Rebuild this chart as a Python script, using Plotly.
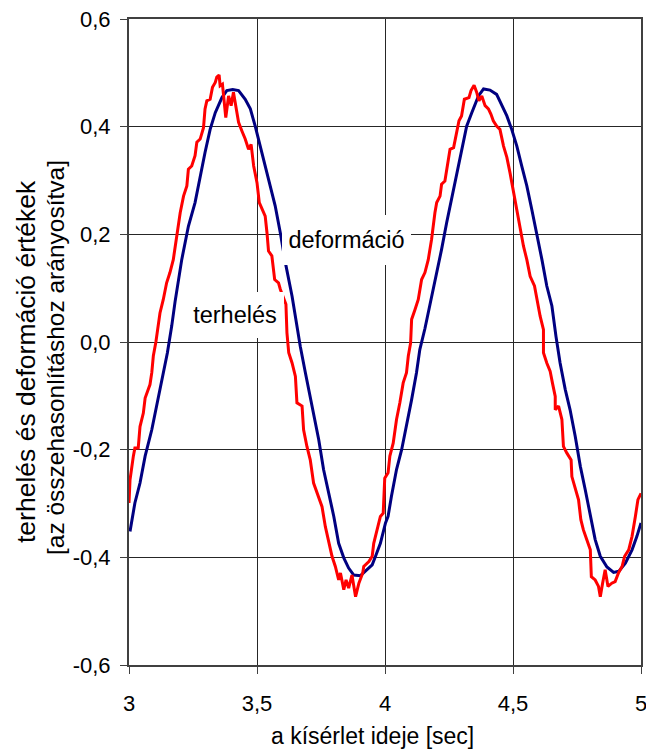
import plotly.graph_objects as go

# ---- data ----
deform_t = [3.004, 3.023, 3.043, 3.063, 3.089, 3.108, 3.128, 3.150, 3.167, 3.180,
            3.206, 3.232, 3.258, 3.278, 3.297, 3.317, 3.337, 3.363, 3.382, 3.405,
            3.428, 3.454, 3.474, 3.493, 3.513, 3.532, 3.552, 3.571, 3.591, 3.611,
            3.637, 3.656, 3.669, 3.689, 3.708, 3.721, 3.741, 3.760, 3.780, 3.800,
            3.819, 3.839, 3.858, 3.878, 3.904, 3.924, 3.950, 3.963, 3.982, 4.002,
            4.012, 4.025, 4.045, 4.065, 4.084, 4.104, 4.123, 4.136, 4.156, 4.169,
            4.195, 4.221, 4.241, 4.260, 4.280, 4.299, 4.319, 4.339, 4.365, 4.385,
            4.410, 4.436, 4.456, 4.476, 4.495, 4.515, 4.534, 4.554, 4.573, 4.593,
            4.613, 4.632, 4.652, 4.668, 4.684, 4.704, 4.723, 4.743, 4.763, 4.782,
            4.802, 4.821, 4.841, 4.867, 4.893, 4.913, 4.939, 4.965, 4.984, 5.000]
deform_v = [-0.352, -0.299, -0.262, -0.212, -0.163, -0.119, -0.070, -0.020, 0.030, 0.075,
            0.153, 0.215, 0.259, 0.308, 0.352, 0.395, 0.426, 0.454, 0.467, 0.469,
            0.467, 0.451, 0.433, 0.401, 0.364, 0.327, 0.290, 0.253, 0.203, 0.147,
            0.085, 0.029, -0.008, -0.057, -0.101, -0.132, -0.181, -0.237, -0.281, -0.324,
            -0.374, -0.401, -0.420, -0.433, -0.434, -0.426, -0.414, -0.398, -0.374, -0.336,
            -0.324, -0.287, -0.237, -0.200, -0.157, -0.107, -0.057, -0.014, 0.025, 0.054,
            0.116, 0.172, 0.222, 0.265, 0.315, 0.358, 0.401, 0.426, 0.457, 0.470,
            0.468, 0.460, 0.439, 0.420, 0.395, 0.364, 0.327, 0.290, 0.247, 0.203,
            0.153, 0.104, 0.067, 0.010, -0.039, -0.088, -0.126, -0.175, -0.231, -0.274,
            -0.324, -0.367, -0.398, -0.418, -0.428, -0.426, -0.411, -0.386, -0.361, -0.336]

load_t = [3.000, 3.004, 3.017, 3.023, 3.036, 3.043, 3.056, 3.063, 3.082, 3.089,
          3.095, 3.105, 3.121, 3.134, 3.147, 3.160, 3.173, 3.187, 3.200, 3.213,
          3.226, 3.232, 3.245, 3.258, 3.265, 3.278, 3.291, 3.297, 3.304, 3.317,
          3.326, 3.337, 3.343, 3.352, 3.356, 3.365, 3.372, 3.378, 3.389, 3.399,
          3.408, 3.415, 3.428, 3.441, 3.454, 3.467, 3.477, 3.487, 3.500, 3.509,
          3.519, 3.532, 3.539, 3.545, 3.558, 3.569, 3.584, 3.591, 3.613, 3.617,
          3.624, 3.637, 3.650, 3.656, 3.676, 3.682, 3.695, 3.708, 3.721, 3.734,
          3.754, 3.767, 3.780, 3.793, 3.806, 3.819, 3.826, 3.839, 3.848, 3.858,
          3.871, 3.885, 3.898, 3.913, 3.917, 3.937, 3.950, 3.956, 3.969, 3.982,
          3.993, 3.999, 4.012, 4.019, 4.032, 4.038, 4.045, 4.058, 4.071, 4.084,
          4.091, 4.100, 4.104, 4.117, 4.130, 4.143, 4.156, 4.169, 4.182, 4.195,
          4.202, 4.215, 4.221, 4.234, 4.241, 4.254, 4.268, 4.280, 4.289, 4.299,
          4.310, 4.328, 4.336, 4.348, 4.358, 4.367, 4.378, 4.391, 4.404, 4.414,
          4.423, 4.436, 4.449, 4.463, 4.476, 4.488, 4.502, 4.515, 4.528, 4.541,
          4.554, 4.567, 4.584, 4.593, 4.606, 4.619, 4.619, 4.632, 4.645, 4.654,
          4.665, 4.665, 4.678, 4.691, 4.697, 4.710, 4.727, 4.730, 4.743, 4.756,
          4.765, 4.775, 4.788, 4.802, 4.806, 4.821, 4.834, 4.841, 4.850, 4.860,
          4.871, 4.886, 4.899, 4.912, 4.926, 4.936, 4.952, 4.965, 4.978, 4.988,
          5.000]
load_v = [-0.299, -0.256, -0.212, -0.197, -0.197, -0.157, -0.132, -0.104, -0.079, -0.057,
          -0.026, 0.000, 0.054, 0.079, 0.110, 0.129, 0.153, 0.197, 0.240, 0.271,
          0.290, 0.321, 0.327, 0.346, 0.371, 0.377, 0.398, 0.433, 0.448, 0.451,
          0.473, 0.482, 0.492, 0.496, 0.476, 0.479, 0.445, 0.417, 0.457, 0.439,
          0.464, 0.442, 0.408, 0.392, 0.377, 0.358, 0.367, 0.327, 0.296, 0.259,
          0.247, 0.234, 0.203, 0.169, 0.160, 0.116, 0.110, 0.098, 0.070, 0.017,
          -0.020, -0.039, -0.064, -0.113, -0.119, -0.163, -0.194, -0.219, -0.262, -0.281,
          -0.306, -0.343, -0.374, -0.398, -0.417, -0.442, -0.429, -0.460, -0.442, -0.457,
          -0.433, -0.473, -0.448, -0.429, -0.417, -0.408, -0.398, -0.374, -0.349, -0.324,
          -0.318, -0.253, -0.243, -0.212, -0.188, -0.163, -0.144, -0.113, -0.076, -0.057,
          -0.026, -0.002, 0.042, 0.060, 0.079, 0.116, 0.129, 0.153, 0.191, 0.240,
          0.259, 0.271, 0.293, 0.299, 0.321, 0.358, 0.361, 0.389, 0.411, 0.420,
          0.451, 0.454, 0.467, 0.477, 0.464, 0.448, 0.457, 0.439, 0.433, 0.423,
          0.411, 0.401, 0.395, 0.364, 0.343, 0.315, 0.278, 0.247, 0.209, 0.178,
          0.153, 0.122, 0.104, 0.079, 0.048, 0.023, -0.020, -0.039, -0.054, -0.076,
          -0.101, -0.126, -0.119, -0.144, -0.194, -0.206, -0.219, -0.250, -0.271, -0.293,
          -0.330, -0.349, -0.367, -0.386, -0.436, -0.442, -0.454, -0.473, -0.448, -0.423,
          -0.454, -0.448, -0.445, -0.429, -0.417, -0.398, -0.386, -0.361, -0.324, -0.293,
          -0.281]

x_tick_vals = [3, 3.5, 4, 4.5, 5]
x_tick_text = ["3", "3,5", "4", "4,5", "5"]
y_tick_vals = [-0.6, -0.4, -0.2, 0.0, 0.2, 0.4, 0.6]
y_tick_text = ["-0,6", "-0,4", "-0,2", "0,0", "0,2", "0,4", "0,6"]

series_names = ["deformáció", "terhelés"]
x_title = "a kísérlet ideje [sec]"
y_title_1 = "terhelés és deformáció értékek"
y_title_2 = "[az összehasonlításhoz arányosítva]"

FONT = "Liberation Sans, Arial, sans-serif"
AX = "#404040"
GRID = "#262626"

fig = go.Figure()
fig.add_trace(go.Scatter(x=deform_t, y=deform_v, mode="lines", name=series_names[0],
                         line=dict(color="#000080", width=3)))
fig.add_trace(go.Scatter(x=load_t, y=load_v, mode="lines", name=series_names[1],
                         line=dict(color="#FF0000", width=3)))

axis_common = dict(
    showgrid=True, gridcolor=GRID, gridwidth=1,
    showline=True, linecolor=AX, linewidth=2, mirror=True,
    ticks="outside", ticklen=7, tickcolor=AX, tickwidth=1,
    zeroline=False, automargin=False, ticklabeloverflow="allow",
    tickfont=dict(family=FONT, size=22, color="black"),
)

fig.update_layout(
    width=646, height=750,
    margin=dict(l=129, r=5, t=19, b=85, autoexpand=False),
    paper_bgcolor="white", plot_bgcolor="white",
    showlegend=False,
    font=dict(family=FONT, color="black"),
    xaxis=dict(range=[3, 5], tickmode="array", tickvals=x_tick_vals, ticktext=x_tick_text,
               ticklabelstandoff=11, **axis_common),
    yaxis=dict(range=[-0.6, 0.6], tickmode="array", tickvals=y_tick_vals, ticktext=y_tick_text,
               ticklabelstandoff=5, **axis_common),
)

# series labels on white boxes
fig.add_annotation(x=3.8496, y=0.1895, xref="x", yref="y", text=series_names[0],
                   showarrow=False, bgcolor="white", width=129, height=50,
                   borderpad=0, borderwidth=0,
                   font=dict(family=FONT, size=23.5, color="black"))
fig.add_annotation(x=3.4129, y=0.0502, xref="x", yref="y", text=series_names[1],
                   showarrow=False, bgcolor="white", width=98, height=46,
                   borderpad=0, borderwidth=0,
                   font=dict(family=FONT, size=23.5, color="black"))

# axis titles
fig.add_annotation(x=(372 - 129) / 512, y=(665 - 736) / 646, xref="paper", yref="paper",
                   text=x_title, showarrow=False, xanchor="center", yanchor="middle",
                   font=dict(family=FONT, size=23, color="black"))
fig.add_annotation(x=(26 - 129) / 512, y=(665 - 362) / 646, xref="paper", yref="paper",
                   text=y_title_1, showarrow=False, textangle=-90,
                   xanchor="center", yanchor="middle",
                   font=dict(family=FONT, size=26.5, color="black"))
fig.add_annotation(x=(55 - 129) / 512, y=(665 - 358) / 646, xref="paper", yref="paper",
                   text=y_title_2, showarrow=False, textangle=-90,
                   xanchor="center", yanchor="middle",
                   font=dict(family=FONT, size=24.5, color="black"))

fig.write_html("out.html")
